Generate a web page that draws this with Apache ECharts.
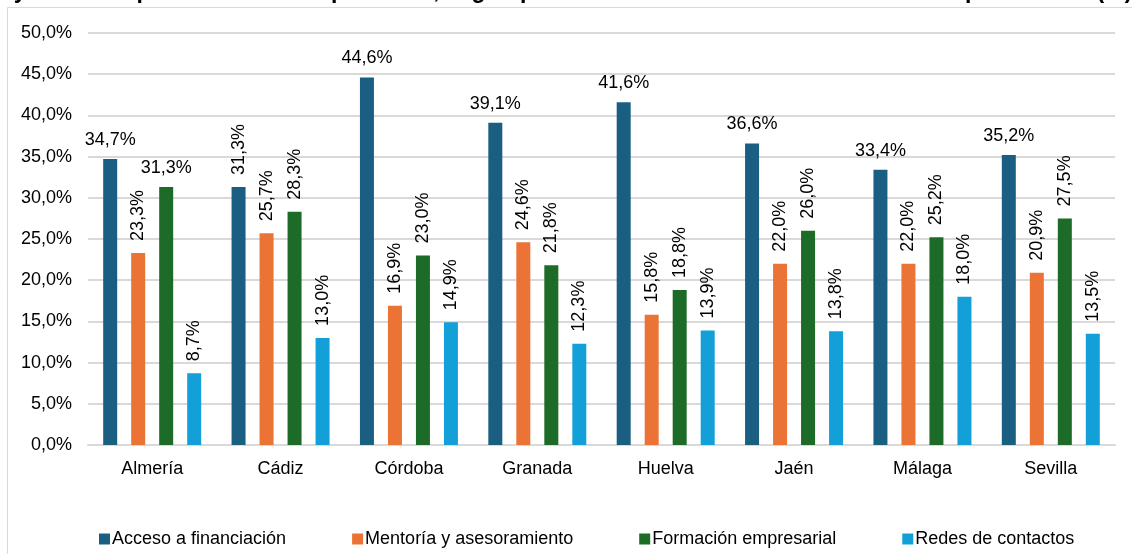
<!DOCTYPE html>
<html>
<head>
<meta charset="utf-8">
<script src="https://cdn.jsdelivr.net/npm/echarts@6/dist/echarts.min.js"></script>
<style>
html,body{margin:0;padding:0;background:#fff;}
#chart{width:1132px;height:554px;}
</style>
</head>
<body>
<div id="chart"></div>
<script>
const categories = ['Almería','Cádiz','Córdoba','Granada','Huelva','Jaén','Málaga','Sevilla'];
const seriesNames = ['Acceso a financiación','Mentoría y asesoramiento','Formación empresarial','Redes de contactos'];
const acceso = [34.7, 31.3, 44.6, 39.1, 41.6, 36.6, 33.4, 35.2];
const mentoria = [23.3, 25.7, 16.9, 24.6, 15.8, 22.0, 22.0, 20.9];
const formacion = [31.3, 28.3, 23.0, 21.8, 18.8, 26.0, 25.2, 27.5];
const redes = [8.7, 13.0, 14.9, 12.3, 13.9, 13.8, 18.0, 13.5];
const yTicks = [0, 5, 10, 15, 20, 25, 30, 35, 40, 45, 50];
const titleText = 'Necesidades de formación y acceso a préstamos de las personas, según provincia de la sede social de la entidad por tamaño (%)';

// label orientation per data point (true = horizontal)
const horizontalLabels = [
  [true, false, true, true, true, true, true, true],
  [false, false, false, false, false, false, false, false],
  [true, false, false, false, false, false, false, false],
  [false, false, false, false, false, false, false, false]
];

const colors = ['#1A5F82', '#EB7335', '#1C6B26', '#13A0D8'];
const FONT = '"Liberation Sans", Arial, sans-serif';
const FS = 18;
const fmt = v => v.toFixed(1).replace('.', ',') + '%';

const allValues = [acceso, mentoria, formacion, redes];

const series = allValues.map((vals, si) => ({
  name: seriesNames[si],
  type: 'bar',
  barWidth: 14,
  barGap: '100%',
  itemStyle: { color: colors[si] },
  data: vals.map((v, i) => {
    const h = horizontalLabels[si][i];
    return {
      value: v,
      label: h ? {
        show: true, position: 'top', distance: 10, rotate: 0,
        align: 'center', verticalAlign: 'bottom'
      } : {
        show: true, position: 'top', distance: 12, rotate: 90,
        align: 'left', verticalAlign: 'middle'
      }
    };
  }),
  label: {
    show: true,
    fontFamily: FONT,
    fontSize: FS,
    color: '#000',
    formatter: p => fmt(p.value)
  }
}));

const chart = echarts.init(document.getElementById('chart'), null, { renderer: 'canvas' });
chart.setOption({
  animation: false,
  backgroundColor: '#fff',
  textStyle: { fontFamily: FONT },
  graphic: [
    {
      type: 'rect', silent: true, z: -1,
      shape: { x: 7.5, y: 7.5, width: 1300, height: 700 },
      style: { fill: 'none', stroke: '#d9d9d9', lineWidth: 1 }
    },
    {
      type: 'text', silent: true, z: 10,
      x: -284, y: 3,
      style: {
        text: titleText,
        font: 'bold 23px ' + FONT,
        fill: '#000',
        textVerticalAlign: 'bottom'
      }
    }
  ],
  grid: { left: 88, right: 17, top: 33, bottom: 109, containLabel: false },
  legend: {
    data: seriesNames,
    left: 99,
    top: 530,
    padding: 0,
    icon: 'rect',
    itemWidth: 11,
    itemHeight: 11,
    itemGap: 66,
    textStyle: { fontFamily: FONT, fontSize: FS, color: '#000', padding: [0, 0, 0, -3] }
  },
  xAxis: {
    type: 'category',
    data: categories,
    axisLine: { lineStyle: { color: '#d9d9d9', width: 2 } },
    axisTick: { show: false },
    axisLabel: { margin: 15, fontFamily: FONT, fontSize: FS, color: '#000' }
  },
  yAxis: {
    type: 'value',
    min: yTicks[0],
    max: yTicks[yTicks.length - 1],
    interval: yTicks[1] - yTicks[0],
    axisLine: { show: false },
    axisTick: { show: false },
    splitLine: { lineStyle: { color: '#d9d9d9', width: 2 } },
    axisLabel: { margin: 16, fontFamily: FONT, fontSize: FS, color: '#000', formatter: v => fmt(v) }
  },
  series: series
});
</script>
</body>
</html>
